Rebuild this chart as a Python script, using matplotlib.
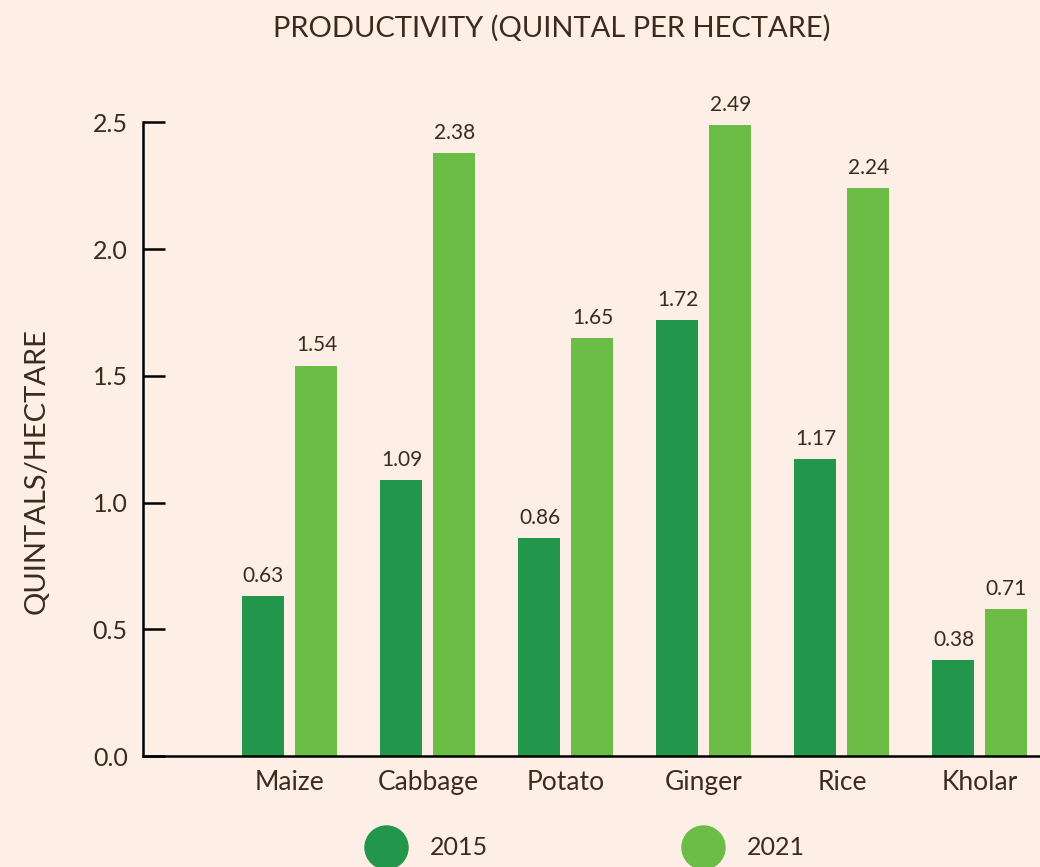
import numpy as np
import matplotlib
matplotlib.use("Agg")
import matplotlib.pyplot as plt
from matplotlib.lines import Line2D

# --- DATA ---
crops = ["Maize", "Cabbage", "Potato", "Ginger", "Rice", "Kholar"]
values_2015 = [0.63, 1.09, 0.86, 1.72, 1.17, 0.38]
values_2021 = [1.54, 2.38, 1.65, 2.49, 2.24, 0.58]
labels_2015 = ["0.63", "1.09", "0.86", "1.72", "1.17", "0.38"]
labels_2021 = ["1.54", "2.38", "1.65", "2.49", "2.24", "0.71"]
series_names = ["2015", "2021"]
y_ticks = [0.0, 0.5, 1.0, 1.5, 2.0, 2.5]

# --- STYLE ---
bg = "#fdefe5"
text_col = "#3b2a1e"
dark_green = "#22964b"
light_green = "#6bbd45"
plt.rcParams["font.family"] = ["Lato", "DejaVu Sans"]

fig = plt.figure(figsize=(10.4, 8.67), dpi=100)
fig.patch.set_facecolor(bg)
ax = fig.add_axes([0.1375, 0.128, 0.8625, 0.731])
ax.set_facecolor(bg)

x = np.arange(len(crops))
w = 0.304
off = 0.192
b1 = ax.bar(x - off, values_2015, w, color=dark_green)
b2 = ax.bar(x + off, values_2021, w, color=light_green)

for bars, labs in [(b1, labels_2015), (b2, labels_2021)]:
    for bar, lab in zip(bars, labs):
        ax.text(bar.get_x() + bar.get_width() / 2, bar.get_height() + 0.04, lab,
                ha="center", va="bottom", fontsize=15, color=text_col)

ax.set_xlim(-1.065, 5.435)
ax.set_ylim(0, 2.5)
ax.set_xticks(x)
ax.set_xticklabels(crops, fontsize=19, color=text_col)
ax.set_yticks(y_ticks)
ax.set_yticklabels([f"{v:.1f}" for v in y_ticks], fontsize=18, color=text_col)
ax.tick_params(axis="x", length=0, pad=10)
ax.tick_params(axis="y", direction="in", length=16, width=1.8, pad=11, color="black")

for s in ["top", "right"]:
    ax.spines[s].set_visible(False)
for s in ["left", "bottom"]:
    ax.spines[s].set_linewidth(1.8)
    ax.spines[s].set_color("black")

ax.set_ylabel("QUINTALS/HECTARE", fontsize=21, color=text_col)
ax.yaxis.set_label_coords(-0.104, 0.45)

fig.text(0.531, 0.967, "PRODUCTIVITY (QUINTAL PER HECTARE)", ha="center", va="center",
         fontsize=21, color=text_col)

handles = [Line2D([], [], marker="o", linestyle="none", markersize=31, color=c)
           for c in [dark_green, light_green]]
fig.legend(handles, series_names, loc="center left", bbox_to_anchor=(0.335, 0.022),
           ncol=2, frameon=False, fontsize=18, labelcolor=text_col,
           handletextpad=0.75, columnspacing=7.6, borderpad=0)

fig.savefig("out.png", dpi=100, facecolor=bg)
